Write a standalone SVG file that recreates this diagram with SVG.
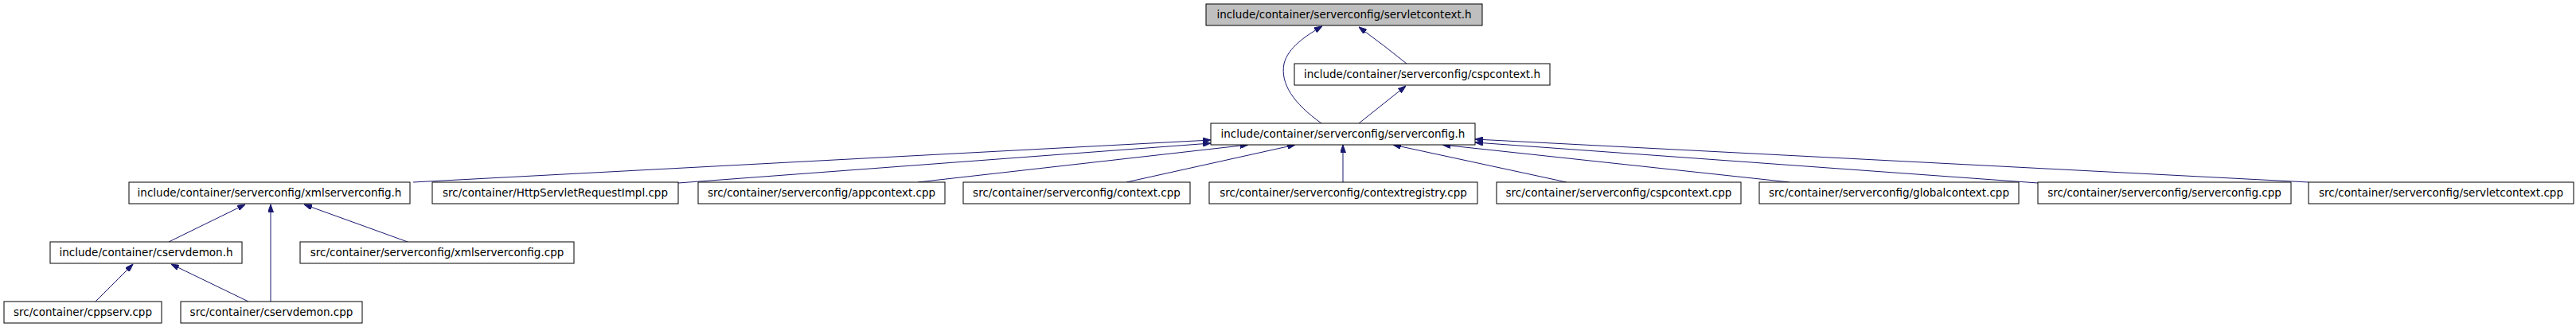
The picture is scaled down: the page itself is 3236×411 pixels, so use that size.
<svg xmlns="http://www.w3.org/2000/svg" width="3236" height="411" viewBox="0 0 3236 411">
<style>
.n rect{fill:#ffffff;stroke:#000000;stroke-width:1}
.n.g rect{fill:#bfbfbf}
.n text{font-family:"DejaVu Sans",sans-serif;font-size:13.5px;fill:#000000;text-anchor:middle}
.e path{fill:none;stroke:#191970;stroke-width:1;marker-end:url(#arr)}
</style>
<defs>
<marker id="arr" viewBox="0 0 10 7" refX="10" refY="3.5" markerWidth="10" markerHeight="7" markerUnits="userSpaceOnUse" orient="auto">
<path d="M0,0 L10,3.5 L0,7 Z" fill="#191970" stroke="#191970" stroke-width="1"/>
</marker>
</defs>
<rect x="0" y="0" width="3236" height="411" fill="#ffffff"/>
<g id="edges" class="e">
<path d="M1767,80 Q1740,58 1707,34"/>
<path d="M1660,155 C1625,130 1608,105 1613,80 C1618,60 1640,45 1661,33"/>
<path d="M1707,155 L1766,108"/>
<path d="M519,229 L1521,176"/>
<path d="M852,230 L1521,180"/>
<path d="M1153,229 L1568,182"/>
<path d="M1415,229 L1627,182"/>
<path d="M1687,229 L1687,182"/>
<path d="M1968,229 L1750,182"/>
<path d="M2248,229 L1812,182"/>
<path d="M2560,230 L1853,179"/>
<path d="M2900,229 L1853,175"/>
<path d="M212,304 L308,257"/>
<path d="M340,379 L340,257"/>
<path d="M512,304 L382,257"/>
<path d="M120,379 L167,332"/>
<path d="M312,379 L215,332"/>
</g>
<g id="servletcontext_h" class="n g"><rect x="1515" y="5" width="347" height="27"/><text x="1688.5" y="23">include/container/serverconfig/servletcontext.h</text></g>
<g id="cspcontext_h" class="n"><rect x="1626" y="80" width="321" height="27"/><text x="1786.5" y="98">include/container/serverconfig/cspcontext.h</text></g>
<g id="serverconfig_h" class="n"><rect x="1521" y="155" width="332" height="27"/><text x="1687" y="173">include/container/serverconfig/serverconfig.h</text></g>
<g id="xmlserverconfig_h" class="n"><rect x="162" y="229" width="353" height="27"/><text x="338.5" y="247">include/container/serverconfig/xmlserverconfig.h</text></g>
<g id="HttpServletRequestImpl_cpp" class="n"><rect x="543" y="229" width="309" height="27"/><text x="697.5" y="247">src/container/HttpServletRequestImpl.cpp</text></g>
<g id="appcontext_cpp" class="n"><rect x="877" y="229" width="310" height="27"/><text x="1032" y="247">src/container/serverconfig/appcontext.cpp</text></g>
<g id="context_cpp" class="n"><rect x="1210" y="229" width="285" height="27"/><text x="1352.5" y="247">src/container/serverconfig/context.cpp</text></g>
<g id="contextregistry_cpp" class="n"><rect x="1519" y="229" width="337" height="27"/><text x="1687.5" y="247">src/container/serverconfig/contextregistry.cpp</text></g>
<g id="cspcontext_cpp" class="n"><rect x="1880" y="229" width="307" height="27"/><text x="2033.5" y="247">src/container/serverconfig/cspcontext.cpp</text></g>
<g id="globalcontext_cpp" class="n"><rect x="2210" y="229" width="326" height="27"/><text x="2373" y="247">src/container/serverconfig/globalcontext.cpp</text></g>
<g id="serverconfig_cpp" class="n"><rect x="2560" y="229" width="318" height="27"/><text x="2719" y="247">src/container/serverconfig/serverconfig.cpp</text></g>
<g id="servletcontext_cpp" class="n"><rect x="2900" y="229" width="333" height="27"/><text x="3066.5" y="247">src/container/serverconfig/servletcontext.cpp</text></g>
<g id="cservdemon_h" class="n"><rect x="63" y="304" width="241" height="27"/><text x="183.5" y="322">include/container/cservdemon.h</text></g>
<g id="xmlserverconfig_cpp" class="n"><rect x="377" y="304" width="344" height="27"/><text x="549" y="322">src/container/serverconfig/xmlserverconfig.cpp</text></g>
<g id="cppserv_cpp" class="n"><rect x="5" y="379" width="198" height="27"/><text x="104" y="397">src/container/cppserv.cpp</text></g>
<g id="cservdemon_cpp" class="n"><rect x="227" y="379" width="228" height="27"/><text x="341" y="397">src/container/cservdemon.cpp</text></g>
</svg>
